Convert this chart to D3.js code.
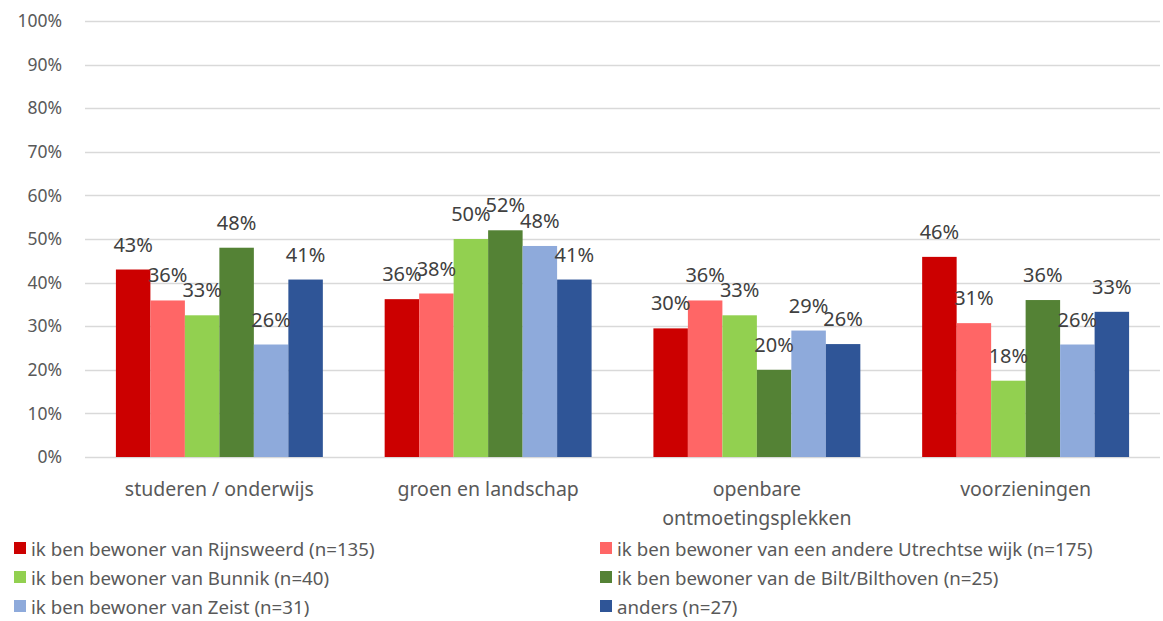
<!DOCTYPE html>
<html>
<head>
<meta charset="utf-8">
<script src="https://cdn.jsdelivr.net/npm/d3@7"></script>
<style>
  body { margin: 0; background: #fff; }
  svg text { font-family: "Noto Sans", "Open Sans", sans-serif; }
</style>
</head>
<body>
<svg id="chart" width="1163" height="621"></svg>
<script>
// data
var categories = ["studeren / onderwijs", "groen en landschap", "openbare ontmoetingsplekken", "voorzieningen"];
var seriesNames = [
  "ik ben bewoner van Rijnsweerd (n=135)",
  "ik ben bewoner van een andere Utrechtse wijk (n=175)",
  "ik ben bewoner van Bunnik (n=40)",
  "ik ben bewoner van de Bilt/Bilthoven (n=25)",
  "ik ben bewoner van Zeist (n=31)",
  "anders (n=27)"
];
var seriesColors = ["#cc0000", "#ff6666", "#92d050", "#548235", "#8eaadb", "#2f5597"];

// one row per series, values per category (fractions)
var rijnsweerd = [0.43, 0.362, 0.295, 0.459];
var utrechtWijk = [0.359, 0.375, 0.359, 0.307];
var bunnik = [0.325, 0.50, 0.325, 0.175];
var bilt = [0.48, 0.52, 0.20, 0.36];
var zeist = [0.258, 0.484, 0.29, 0.258];
var anders = [0.407, 0.407, 0.259, 0.333];
var seriesValues = [rijnsweerd, utrechtWijk, bunnik, bilt, zeist, anders];

var yTicks = [0, 0.1, 0.2, 0.3, 0.4, 0.5, 0.6, 0.7, 0.8, 0.9, 1.0];

var svg = d3.select("#chart");
var margin = {left: 85, right: 3, top: 21, bottom: 164};
var W = 1163, H = 621;

var x0 = d3.scaleBand()
  .domain(categories)
  .range([margin.left, W - margin.right])
  .paddingInner(0.23)
  .paddingOuter(0.115);

var x1 = d3.scaleBand()
  .domain(d3.range(seriesNames.length))
  .range([0, x0.bandwidth()]);

var y = d3.scaleLinear()
  .domain([0, 1])
  .range([H - margin.bottom, margin.top]);

// gridlines
svg.append("g").attr("class", "yGrids")
  .selectAll("line")
  .data(yTicks)
  .join("line")
  .attr("x1", margin.left)
  .attr("x2", W - margin.right)
  .attr("y1", d => Math.round(y(d)) + 0.5)
  .attr("y2", d => Math.round(y(d)) + 0.5)
  .attr("stroke", "#d9d9d9")
  .attr("stroke-width", 1.3);

// y axis labels
var yAxis = d3.axisLeft(y).tickValues(yTicks).tickFormat(d3.format(".0%")).tickSize(0).tickPadding(23);
svg.append("g").attr("class", "yAxis")
  .attr("transform", `translate(${margin.left},0)`)
  .call(yAxis)
  .call(g => g.select(".domain").remove())
  .selectAll("text")
  .attr("font-size", 17.5)
  .attr("fill", "#595959")
  .style("font-family", '"Noto Sans", sans-serif');

// bars
var groups = svg.append("g").selectAll("g")
  .data(categories)
  .join("g")
  .attr("transform", d => `translate(${x0(d)},0)`);

groups.selectAll("rect")
  .data((c, ci) => seriesValues.map((vals, si) => ({si: si, v: vals[ci]})))
  .join("rect")
  .attr("x", d => x1(d.si))
  .attr("width", x1.bandwidth())
  .attr("y", d => y(d.v))
  .attr("height", d => y(0) - y(d.v))
  .attr("fill", d => seriesColors[d.si]);

// data labels (they touch each other in the original too)
groups.selectAll("text")
  .data((c, ci) => seriesValues.map((vals, si) => ({si: si, v: vals[ci]})))
  .join("text")
  .attr("x", d => x1(d.si) + x1.bandwidth() / 2)
  .attr("y", d => y(d.v) - 18)
  .attr("text-anchor", "middle")
  .attr("font-size", 20)
  .attr("fill", "#404040")
  .text(d => d3.format(".0%")(d.v));

// category labels (wrapped like the original)
var catLines = {
  "studeren / onderwijs": ["studeren / onderwijs"],
  "groen en landschap": ["groen en landschap"],
  "openbare ontmoetingsplekken": ["openbare", "ontmoetingsplekken"],
  "voorzieningen": ["voorzieningen"]
};
var xAxis = svg.append("g").attr("class", "xAxis");
categories.forEach(c => {
  var t = xAxis.append("text")
    .attr("x", x0(c) + x0.bandwidth() / 2)
    .attr("y", 496)
    .attr("text-anchor", "middle")
    .attr("font-size", 19.5)
    .attr("fill", "#595959");
  catLines[c].forEach((line, i) => {
    t.append("tspan")
      .attr("x", x0(c) + x0.bandwidth() / 2)
      .attr("dy", i === 0 ? 0 : 29)
      .text(line);
  });
});

// legend, two columns
var legend = svg.append("g").attr("class", "legend");
var legX = [14, 600], legY = [556, 585, 614];
seriesNames.forEach((name, i) => {
  var col = i % 2, row = Math.floor(i / 2);
  var g = legend.append("g").attr("transform", `translate(${legX[col]},${legY[row]})`);
  g.append("rect")
    .attr("x", 0).attr("y", -14)
    .attr("width", 12).attr("height", 12)
    .attr("fill", seriesColors[i]);
  g.append("text")
    .attr("x", 17).attr("y", 0)
    .attr("font-size", 18.7)
    .attr("fill", "#595959")
    .text(name);
});
</script>
</body>
</html>
